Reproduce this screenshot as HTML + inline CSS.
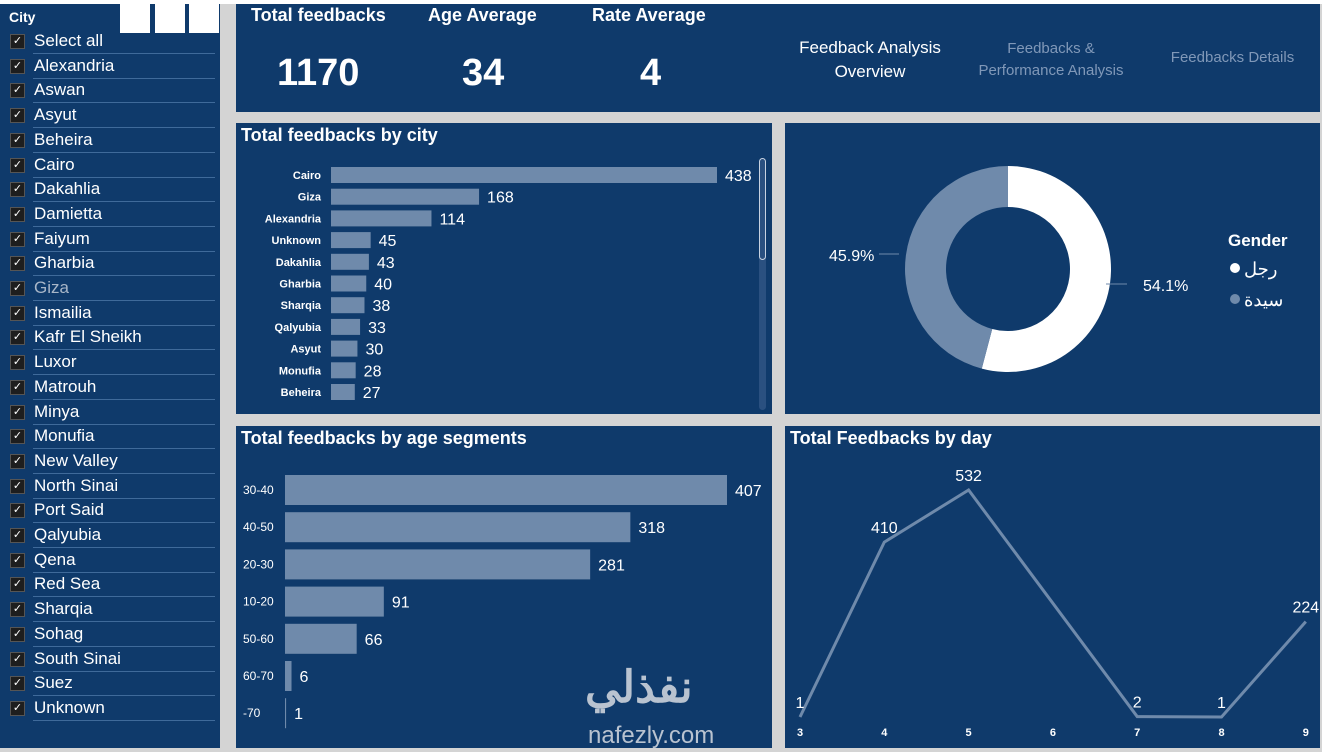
<!DOCTYPE html>
<html><head><meta charset="utf-8">
<style>
*{margin:0;padding:0;box-sizing:border-box}
body{width:1322px;height:752px;background:#d4d4d4;position:relative;overflow:hidden;font-family:"Liberation Sans","DejaVu Sans",sans-serif;color:#fff}
.p{position:absolute;background:#0f3a6b}
.t{position:absolute;font-weight:bold;font-size:18px;color:#fff}
svg text{font-family:"Liberation Sans","Noto Sans CJK SC",sans-serif}
</style></head><body>
<div class="p" style="left:0;top:4px;width:220px;height:744px"></div>
<div style="position:absolute;left:0;top:0;width:1322px;height:4px;background:#fff"></div>
<div class="t" style="left:9px;top:9px;font-size:14px">City</div>
<div style="position:absolute;left:120px;top:4px;width:30px;height:29px;background:#fff"></div>
<div style="position:absolute;left:155px;top:4px;width:30px;height:29px;background:#fff"></div>
<div style="position:absolute;left:189px;top:4px;width:30px;height:29px;background:#fff"></div>
<div id="slicer"></div>

<div class="p" style="left:236px;top:4px;width:1084px;height:108px"></div>
<div class="t" style="left:251px;top:5px">Total feedbacks</div>
<div class="t" style="left:428px;top:5px">Age Average</div>
<div class="t" style="left:592px;top:5px">Rate Average</div>
<div class="t" style="left:277px;top:52px;font-size:38px">1170</div>
<div class="t" style="left:462px;top:52px;font-size:38px">34</div>
<div class="t" style="left:640px;top:52px;font-size:38px">4</div>
<div style="position:absolute;left:780px;top:36px;width:180px;text-align:center;font-size:17px;line-height:24px">Feedback Analysis Overview</div>
<div style="position:absolute;left:966px;top:38px;width:170px;text-align:center;font-size:15px;line-height:22px;color:#8098b8">Feedbacks &amp; Performance Analysis</div>
<div style="position:absolute;left:1160px;top:49px;width:145px;text-align:center;font-size:15px;color:#8098b8">Feedbacks Details</div>

<div class="p" style="left:236px;top:123px;width:536px;height:291px"></div>
<div class="t" style="left:241px;top:125px">Total feedbacks by city</div>
<div class="p" style="left:785px;top:123px;width:535px;height:291px"></div>
<div class="p" style="left:236px;top:426px;width:536px;height:322px"></div>
<div class="t" style="left:241px;top:428px">Total feedbacks by age segments</div>
<div class="p" style="left:785px;top:426px;width:535px;height:322px"></div>
<div class="t" style="left:790px;top:428px">Total Feedbacks by day</div>
<div style="position:absolute;left:759px;top:158px;width:7px;height:252px;border-radius:4px;background:#2a5080"></div>
<div style="position:absolute;left:759px;top:158px;width:7px;height:102px;border-radius:4px;border:1px solid #c8d2e0"></div>

<svg id="s" width="1322" height="752" style="position:absolute;left:0;top:0"></svg>
<div style="position:absolute;left:585px;top:662px;font-size:44px;font-weight:bold;color:#b9c3d0;font-family:'Liberation Sans','Noto Sans CJK SC',sans-serif">نفذلي</div>
<div style="position:absolute;left:588px;top:722px;font-size:24px;color:#b9c3d0">nafezly.com</div>

<script>
const cities=["Select all","Alexandria","Aswan","Asyut","Beheira","Cairo","Dakahlia","Damietta","Faiyum","Gharbia","Giza","Ismailia","Kafr El Sheikh","Luxor","Matrouh","Minya","Monufia","New Valley","North Sinai","Port Said","Qalyubia","Qena","Red Sea","Sharqia","Sohag","South Sinai","Suez","Unknown"];
const cityCats=["Cairo","Giza","Alexandria","Unknown","Dakahlia","Gharbia","Sharqia","Qalyubia","Asyut","Monufia","Beheira"];
const cityVals=[438,168,114,45,43,40,38,33,30,28,27];
const ageCats=["30-40","40-50","20-30","10-20","50-60","60-70","-70"];
const ageVals=[407,318,281,91,66,6,1];
const genderLabels=["رجل","سيدة"];
const genderVals=[54.1,45.9];
const days=[3,4,5,6,7,8,9];
const dayVals=[1,410,532,null,2,1,224];

const sl=document.getElementById('slicer');
cities.forEach((c,i)=>{
 const y=30+i*24.7;
 const d=document.createElement('div');
 
 
 d.style.cssText=`position:absolute;left:8px;top:${y}px;width:207px;height:24px;border-bottom:1px solid #3f6a9a;margin-left:25px;`;
 d.style.left='8px';
 d.innerHTML=`<span style="position:absolute;left:-23px;top:4px;width:15px;height:15px;background:#1e1e1e;border:1px solid #555;color:#fff;font-size:11px;line-height:13px;text-align:center">✓</span><span style="position:absolute;left:1px;top:1px;font-size:17px;color:${c=='Giza'?'#a8b6c8':'#fff'}">${c}</span>`;
 d.style.marginLeft='0';d.style.left='33px';d.style.width='182px';
 d.querySelector('span').style.left='-23px';
 sl.appendChild(d);
});

const s=document.getElementById('s');const NS='http://www.w3.org/2000/svg';
function el(t,a,txt){const e=document.createElementNS(NS,t);for(const k in a)e.setAttribute(k,a[k]);if(txt!=null)e.textContent=txt;s.appendChild(e);return e;}
const BAR='#6f8aab';
// city chart
const cx=v=>331+v*386/438, cy=i=>175+i*21.7;
cityCats.forEach((c,i)=>{
 let e=el('rect',{x:331,y:cy(i)-8,width:cx(cityVals[i])-331,height:16,fill:BAR});
 
 e=el('text',{x:321,y:cy(i)+4,'text-anchor':'end','font-size':11,'font-weight':'bold',fill:'#fff'},c);
 
 e=el('text',{x:cx(cityVals[i])+8,y:cy(i)+6,'font-size':16,fill:'#fff'},cityVals[i]);
 
});
// age chart
const ax=v=>285+v*442/407, ay=i=>490+i*37.2;
ageCats.forEach((c,i)=>{
 let e=el('rect',{x:285,y:ay(i)-15,width:Math.max(1,ax(ageVals[i])-285),height:30,fill:BAR});
 
 e=el('text',{x:243,y:ay(i)+4,'font-size':12,fill:'#fff'},c);
 
 e=el('text',{x:ax(ageVals[i])+8,y:ay(i)+6,'font-size':16,fill:'#fff'},ageVals[i]);
 
});
// donut
const dcx=1008,dcy=269,R=103,r=62;
let a0=-Math.PI/2;const cols=['#ffffff',BAR];
genderVals.forEach((v,i)=>{
 const a1=a0+v/100*2*Math.PI,lg=(a1-a0)>Math.PI?1:0;
 const p=(rr,a)=>[dcx+rr*Math.cos(a),dcy+rr*Math.sin(a)];
 const [x0,y0]=p(R,a0),[x1,y1]=p(R,a1),[x2,y2]=p(r,a1),[x3,y3]=p(r,a0);
 const e=el('path',{d:`M${x0},${y0}A${R},${R} 0 ${lg} 1 ${x1},${y1}L${x2},${y2}A${r},${r} 0 ${lg} 0 ${x3},${y3}Z`,fill:cols[i]});
 
 a0=a1;
});
let e=el('text',{x:1143,y:291,'font-size':16,fill:'#fff'},genderVals[0]+'%');
el('line',{x1:1106,y1:284,x2:1127,y2:284,stroke:'#6f8aab'});
e=el('text',{x:829,y:261,'font-size':16,fill:'#fff'},genderVals[1]+'%');
el('line',{x1:879,y1:254,x2:899,y2:254,stroke:'#6f8aab'});
e=el('text',{x:1228,y:246,'font-size':17,'font-weight':'bold',fill:'#fff'},'Gender');
genderLabels.forEach((g,i)=>{
 let c=el('circle',{cx:1235,cy:268+i*31,r:5,fill:cols[i]});
 let t=el('text',{x:1244,y:275+i*31,'font-size':18,fill:'#fff'},g);
});
// line chart
const lx=d=>800+(d-3)*84.3, ly=v=>717-(v-1)*227/531;
let pts=[];days.forEach((d,i)=>{if(dayVals[i]!=null)pts.push(lx(d)+','+ly(dayVals[i]));});
e=el('polyline',{points:pts.join(' '),fill:'none',stroke:'#6f8aab','stroke-width':3});

days.forEach((d,i)=>{
 let t=el('text',{x:lx(d),y:736,'text-anchor':'middle','font-size':11,'font-weight':'bold',fill:'#fff'},d);
 
 if(dayVals[i]!=null){
  t=el('text',{x:lx(d),y:ly(dayVals[i])-9,'text-anchor':'middle','font-size':16,fill:'#fff'},dayVals[i]);
  
 }
});
</script>
</body></html>
